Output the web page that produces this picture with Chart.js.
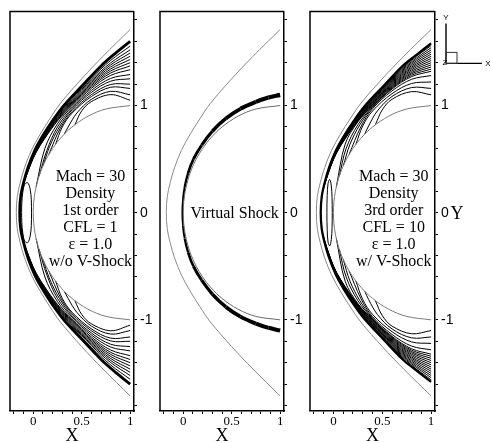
<!DOCTYPE html>
<html><head><meta charset="utf-8">
<script src="https://cdn.jsdelivr.net/npm/chart.js@4.4.0/dist/chart.umd.min.js"></script>
<style>
html,body{margin:0;padding:0;background:#fff;overflow:hidden;width:491px;height:443px;}
canvas{position:absolute;top:0;}
</style></head><body>
<canvas id="c1" width="155" height="443" style="left:0px"></canvas>
<canvas id="c2" width="155" height="443" style="left:150px"></canvas>
<canvas id="c3" width="191" height="443" style="left:300px"></canvas>
<script>
// ---------- data (upper halves, [x, y]) ----------
const xTickLabels = ['0', '0.5', '1'];
const yTickLabels = ['-1', '0', '1'];

const outerBoundary = [[-0.175,0],[-0.165,0.15],[-0.135,0.28],[-0.09,0.42],[-0.02,0.58],[0.07,0.73],[0.17,0.875],[0.28,1.02],[0.5,1.25],[0.72,1.46],[1.0,1.71]];
const bodySurface = [[0,0],[0.005,0.1],[0.02,0.2],[0.046,0.3],[0.083,0.4],[0.134,0.5],[0.2,0.6],[0.286,0.7],[0.4,0.8],[0.564,0.9],[0.75,0.968],[1.0,1.0]];
const virtualShock = [[-0.01,0],[-0.003,0.12],[0.015,0.24],[0.05,0.37],[0.105,0.5],[0.19,0.63],[0.30,0.76],[0.44,0.88],[0.59,0.97],[0.75,1.035],[0.88,1.075],[1.0,1.10]];

const shockP1 = [[-0.14,0],[-0.13,0.15],[-0.10,0.28],[-0.055,0.42],[0.015,0.58],[0.10,0.72],[0.20,0.86],[0.315,1.0],[0.50,1.18],[0.70,1.37],[0.85,1.49],[1.0,1.60]];
const shockP3 = [[-0.13,0],[-0.12,0.15],[-0.09,0.28],[-0.045,0.42],[0.025,0.58],[0.11,0.72],[0.21,0.86],[0.325,1.0],[0.51,1.18],[0.71,1.37],[0.86,1.48],[1.0,1.58]];

const loopP1 = [[-0.018,0],[-0.02,0.12],[-0.032,0.22],[-0.058,0.28],[-0.088,0.265],[-0.108,0.19],[-0.118,0.09],[-0.12,0]];
const loopP3 = [[-0.012,0],[-0.014,0.14],[-0.022,0.25],[-0.038,0.31],[-0.055,0.275],[-0.064,0.16],[-0.067,0]];

const contoursP1 = [
 [[1,1.555],[0.8,1.422],[0.6,1.256],[0.4,1.067],[0.25,0.908],[0.12,0.738],[0.03,0.597],[-0.03,0.470],[-0.061,0.40]],
 [[1,1.52],[0.8,1.399],[0.6,1.240],[0.4,1.055],[0.25,0.898],[0.12,0.729],[0.03,0.590],[-0.03,0.465],[-0.069,0.375]],
 [[1,1.49],[0.8,1.380],[0.6,1.227],[0.4,1.045],[0.25,0.890],[0.12,0.722],[0.03,0.585],[-0.03,0.461],[-0.078,0.35]],
 [[1,1.46],[0.8,1.361],[0.6,1.214],[0.4,1.034],[0.25,0.881],[0.12,0.715],[0.03,0.579],[-0.03,0.456],[-0.086,0.325]],
 [[1,1.43],[0.8,1.342],[0.6,1.201],[0.4,1.024],[0.25,0.873],[0.12,0.708],[0.03,0.574],[-0.03,0.452],[-0.094,0.30]],
 [[1,1.40],[0.8,1.323],[0.6,1.188],[0.4,1.013],[0.25,0.864],[0.12,0.701],[0.03,0.568],[-0.03,0.447],[-0.101,0.275]],
 [[1,1.37],[0.8,1.304],[0.6,1.175],[0.4,1.003],[0.25,0.856],[0.12,0.694],[0.03,0.563],[-0.03,0.443],[-0.107,0.25]],
 [[1,1.335],[0.8,1.282],[0.6,1.160],[0.4,0.990],[0.25,0.83],[0.12,0.6],[0.03,0.243]],
 [[1,1.29],[0.8,1.254],[0.6,1.141],[0.4,0.974],[0.25,0.80],[0.14,0.58],[0.06,0.341]],
 [[1,1.25],[0.8,1.228],[0.6,1.123],[0.4,0.961],[0.27,0.80],[0.17,0.62],[0.1,0.436]],
 [[1,1.20],[0.8,1.197],[0.6,1.102],[0.4,0.943],[0.28,0.79],[0.16,0.543]],
 [[1,1.16],[0.8,1.171],[0.6,1.084],[0.4,0.929],[0.3,0.80],[0.23,0.638]],
 [[1,1.10],[0.8,1.133],[0.6,1.058],[0.45,0.93],[0.36,0.80],[0.32,0.733]],
 [[1,1.05],[0.8,1.102],[0.6,1.037],[0.5,0.95],[0.43,0.822]]
];

const contoursP3 = [
 [[1,1.56],[0.8,1.423],[0.6,1.257],[0.4,1.066],[0.25,0.904],[0.12,0.730],[0.03,0.585],[-0.03,0.451],[-0.051,0.40]],
 [[1,1.54],[0.8,1.410],[0.6,1.249],[0.4,1.059],[0.25,0.898],[0.12,0.725],[0.03,0.581],[-0.03,0.448],[-0.058,0.38]],
 [[1,1.52],[0.8,1.398],[0.6,1.240],[0.4,1.052],[0.25,0.893],[0.12,0.721],[0.03,0.578],[-0.03,0.446],[-0.064,0.36]],
 [[1,1.50],[0.8,1.385],[0.6,1.231],[0.4,1.045],[0.25,0.887],[0.12,0.716],[0.03,0.574],[-0.03,0.443],[-0.071,0.34]],
 [[1,1.48],[0.8,1.372],[0.6,1.223],[0.4,1.039],[0.25,0.881],[0.12,0.712],[0.03,0.571],[-0.03,0.440],[-0.077,0.32]],
 [[1,1.46],[0.8,1.359],[0.6,1.214],[0.4,1.032],[0.25,0.876],[0.12,0.707],[0.03,0.567],[-0.03,0.437],[-0.084,0.30]],
 [[1,1.44],[0.8,1.347],[0.6,1.206],[0.4,1.025],[0.25,0.870],[0.12,0.703],[0.03,0.564],[-0.03,0.435],[-0.09,0.28]],
 [[1,1.42],[0.8,1.334],[0.6,1.197],[0.4,1.018],[0.25,0.865],[0.12,0.698],[0.03,0.560],[-0.03,0.432],[-0.095,0.26]],
 [[1,1.40],[0.8,1.321],[0.6,1.188],[0.4,1.011],[0.25,0.859],[0.12,0.694],[0.03,0.557],[-0.03,0.429],[-0.099,0.24]],
 [[1,1.38],[0.8,1.308],[0.6,1.180],[0.4,1.004],[0.25,0.854],[0.12,0.689],[0.03,0.554],[-0.03,0.426],[-0.104,0.22]],
 [[1,1.36],[0.8,1.296],[0.6,1.171],[0.4,0.997],[0.25,0.848],[0.12,0.64],[0.03,0.243]],
 [[1,1.34],[0.8,1.283],[0.6,1.162],[0.4,0.990],[0.25,0.82],[0.13,0.6],[0.06,0.341]],
 [[1,1.32],[0.8,1.270],[0.6,1.154],[0.4,0.983],[0.27,0.82],[0.17,0.64],[0.1,0.436]],
 [[1,1.28],[0.8,1.245],[0.6,1.137],[0.4,0.970],[0.28,0.80],[0.16,0.543]],
 [[1,1.22],[0.8,1.206],[0.6,1.111],[0.4,0.949],[0.3,0.81],[0.23,0.638]],
 [[1,1.16],[0.8,1.168],[0.6,1.085],[0.45,0.95],[0.36,0.81],[0.32,0.733]],
 [[1,1.10],[0.8,1.130],[0.6,1.059],[0.5,0.96],[0.43,0.822]]
];

const notesP1 = ['Mach = 30', 'Density', '1st order', 'CFL = 1', '\u03b5 = 1.0', 'w/o V-Shock'];
const notesP2 = ['Virtual Shock'];
const notesP3 = ['Mach = 30', 'Density', '3rd order', 'CFL = 10', '\u03b5 = 1.0', 'w/ V-Shock'];

// ---------- helpers ----------
const pts = a => a.map(([x, y]) => ({x, y}));
const neg = ([x, y]) => [x, -y];
const throughAxis = up => up.slice().reverse().map(neg).concat(up.slice(1));
const closedLoop = up => up.concat(up.slice().reverse().slice(1).map(neg));

function line(data, color, width, extra) {
  return Object.assign({data: pts(data), showLine: true, borderColor: color, borderWidth: width,
    pointRadius: 0, fill: false, tension: 0.35}, extra || {});
}
function contourSets(list) {
  const out = [];
  list.forEach(c => { out.push(line(c, '#000', 1)); out.push(line(c.map(neg), '#000', 1)); });
  return out;
}

function decor(o) {
  return {
    id: 'decor',
    afterDraw(chart) {
      const {ctx, chartArea: a, scales} = chart;
      ctx.save();
      ctx.strokeStyle = '#000'; ctx.lineWidth = 1.5;
      ctx.beginPath(); ctx.moveTo(a.left, a.bottom); ctx.lineTo(a.left, a.top); ctx.lineTo(a.right, a.top); ctx.stroke();
      ctx.fillStyle = '#000';
      ctx.font = '16px "Liberation Serif", "Times New Roman", serif';
      ctx.textAlign = 'center'; ctx.textBaseline = 'alphabetic';
      const cx = scales.x.getPixelForValue(o.noteX);
      const y0 = scales.y.getPixelForValue(0);
      o.notes.forEach((t, i) => ctx.fillText(t, cx, y0 + o.firstOffset + i * 17));
      if (o.extra) o.extra(ctx, a, scales);
      ctx.restore();
    }
  };
}

function makeChart(id, datasets, yWidth, plugin) {
  new Chart(document.getElementById(id), {
    type: 'scatter',
    data: {datasets},
    options: {
      responsive: false, animation: false, devicePixelRatio: 1,
      layout: {padding: {left: 10, top: 10, right: 0, bottom: 0}},
      plugins: {legend: {display: false}, tooltip: {enabled: false}},
      scales: {
        x: {type: 'linear', position: 'bottom', min: -0.24, max: 1.04,
            afterFit: s => { s.height = 32; },
            border: {display: true, color: '#000', width: 1.5},
            grid: {display: true, drawOnChartArea: false, drawTicks: true, tickLength: 3, tickColor: '#000', tickWidth: 1},
            ticks: {stepSize: 0.1, includeBounds: false, autoSkip: false, maxRotation: 0, padding: 0, color: '#000',
                    font: {family: '"Liberation Serif", "Times New Roman", serif', size: 13},
                    callback: v => { const s = String(Math.round(v * 100) / 100); return xTickLabels.includes(s) ? s : ''; }},
            title: {display: true, text: 'X', color: '#000', padding: {top: 0, bottom: 0},
                    font: {family: '"Liberation Serif", "Times New Roman", serif', size: 18, lineHeight: 0.8}}},
        y: {type: 'linear', position: 'right', min: -1.851, max: 1.879,
            afterFit: s => { s.width = yWidth; },
            border: {display: true, color: '#000', width: 1.5},
            grid: {display: true, drawOnChartArea: false, drawTicks: true, tickLength: 3, tickColor: '#000', tickWidth: 1},
            ticks: {stepSize: 0.2, includeBounds: false, autoSkip: false, padding: 3, color: '#000',
                    font: {family: '"Liberation Sans", Arial, sans-serif', size: 14},
                    callback: v => { const s = String(Math.round(v * 100) / 100); return yTickLabels.includes(s) ? s : ''; }}}
      }
    },
    plugins: [plugin]
  });
}

// ---------- panel 1 ----------
makeChart('c1', [
  line(throughAxis(outerBoundary), '#8a8a8a', 1),
  line(throughAxis(bodySurface), '#7a7a7a', 1),
  ...contourSets(contoursP1),
  line(closedLoop(loopP1), '#000', 1),
  line(throughAxis(shockP1), '#000', 2.8)
], 21, decor({notes: notesP1, noteX: 0.59, firstOffset: -32}));

// ---------- panel 2 ----------
makeChart('c2', [
  line(throughAxis(outerBoundary), '#8a8a8a', 1),
  line(throughAxis(bodySurface), '#6a6a6a', 1),
  line(throughAxis(virtualShock), '#000', 2, {segment: {borderWidth: c => 1.6 + 2.6 * Math.abs(c.p0.parsed.y + c.p1.parsed.y) / 2.2}})
], 21, decor({notes: notesP2, noteX: 0.53, firstOffset: 5}));

// ---------- panel 3 ----------
makeChart('c3', [
  line(throughAxis(outerBoundary), '#8a8a8a', 1),
  line(throughAxis(bodySurface), '#7a7a7a', 1),
  ...contourSets(contoursP3),
  line(closedLoop(loopP3), '#000', 1),
  line(throughAxis(shockP3), '#000', 2.3)
], 56, decor({notes: notesP3, noteX: 0.617, firstOffset: -32, extra: (ctx, a, scales) => {
  ctx.font = '18px "Liberation Serif", "Times New Roman", serif';
  ctx.textAlign = 'center';
  ctx.fillText('Y', a.right + 22, scales.y.getPixelForValue(0) + 6);
  const ox = a.right + 11, oy = a.top + 52;
  ctx.strokeStyle = '#000'; ctx.lineWidth = 1.4;
  ctx.beginPath(); ctx.moveTo(ox, oy); ctx.lineTo(ox, oy - 40); ctx.moveTo(ox, oy); ctx.lineTo(ox + 36, oy); ctx.stroke();
  ctx.lineWidth = 1; ctx.strokeStyle = '#333';
  ctx.strokeRect(ox, oy - 11, 11, 11);
  ctx.font = '8px "Liberation Sans", Arial, sans-serif';
  ctx.fillStyle = '#000';
  ctx.textAlign = 'center'; ctx.textBaseline = 'middle';
  ctx.fillText('Y', ox, oy - 46);
  ctx.fillText('X', ox + 42, oy);
  ctx.fillText('Z', ox - 1, oy - 1);
}}));
</script>
</body></html>
